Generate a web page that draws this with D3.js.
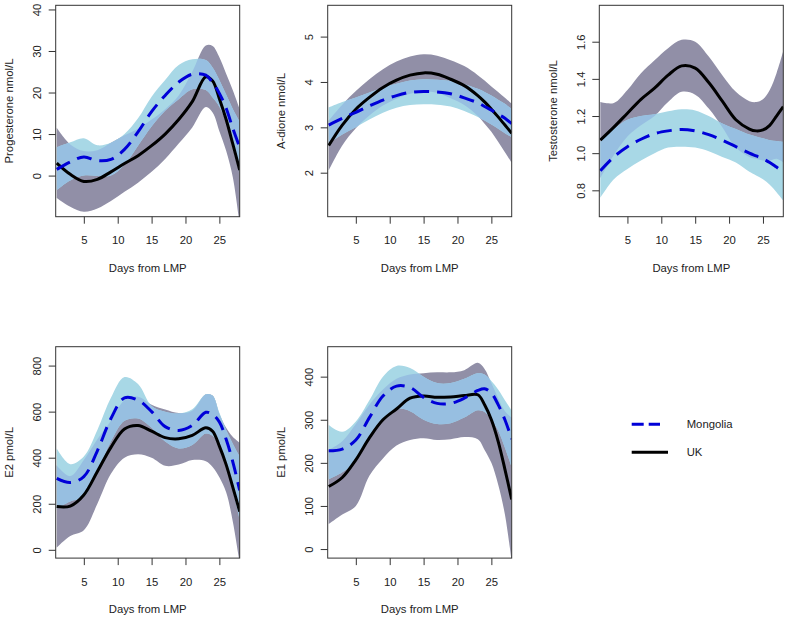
<!DOCTYPE html>
<html><head><meta charset="utf-8">
<script src="https://cdn.jsdelivr.net/npm/d3@7"></script>
<style>
html,body{margin:0;padding:0;background:#fff;}
svg{display:block;font-family:"Liberation Sans",Arial,sans-serif;}
</style></head>
<body>
<script>
// ---------- DATA ----------
const days = [1,3,5,7,9,11,13,15,17,19,21,23,24,25,26,27,28];
const xTicks = [5,10,15,20,25];
const seriesNames = ["Mongolia","UK"];
const xLabel = "Days from LMP";

// Progesterone nmol/L
const progUKMean  = [3.0,0.3,-1.4,-0.9,0.9,2.9,4.8,7.2,10,13.5,17.8,23.8,22.8,18.5,13.5,7.5,1.3];
const progUKUpper = [11.5,7.5,5.9,6.1,7.9,9.7,11.3,13.5,16,19.3,25,31.3,31.2,28.5,24.5,20.5,16];
const progUKLower = [-5.4,-7.5,-8.7,-7.9,-6.1,-3.9,-1.7,0.9,4,7.7,11.6,16.5,15.2,10.7,6,-0.5,-12];
const progMNMean  = [1.5,3.3,4.5,3.6,3.9,6.3,10.5,15.4,19.3,22.5,24.4,24.2,22.4,19.8,16.2,11.3,6.8];
const progMNUpper = [6.8,8,9,7.3,7.9,10,13.8,19,23,26.6,28,27.8,26,23,19.5,16,13];
const progMNLower = [-3.5,-1.2,0,-0.1,0,2.6,7.2,11.8,15.6,18.4,20.8,20.6,18.8,16.6,12.9,6.6,0.6];
const progTicks = [0,10,20,30,40];

// A-dione nmol/L
const adUKMean  = [2.6,3.05,3.4,3.66,3.88,4.04,4.15,4.2,4.17,4.06,3.92,3.7,3.56,3.4,3.23,3.05,2.87];
const adUKUpper = [3.15,3.5,3.8,4.06,4.28,4.45,4.56,4.61,4.58,4.48,4.35,4.15,4.03,3.9,3.78,3.65,3.52];
const adUKLower = [2.05,2.6,2.98,3.26,3.48,3.63,3.74,3.79,3.76,3.64,3.49,3.25,3.08,2.9,2.68,2.45,2.22];
const adMNMean  = [3.05,3.2,3.33,3.47,3.6,3.7,3.77,3.79,3.78,3.74,3.65,3.54,3.46,3.38,3.29,3.2,3.08];
const adMNUpper = [3.44,3.56,3.66,3.77,3.88,3.96,4.03,4.06,4.05,4.02,3.95,3.85,3.78,3.7,3.61,3.52,3.4];
const adMNLower = [2.65,2.84,3.0,3.17,3.32,3.43,3.49,3.51,3.5,3.46,3.36,3.23,3.15,3.06,2.97,2.87,2.78];
const adTicks = [2,3,4,5];

// Testosterone nmol/L
const teUKMean  = [1.07,1.14,1.215,1.29,1.35,1.42,1.47,1.458,1.38,1.28,1.18,1.13,1.12,1.125,1.15,1.2,1.25];
const teUKUpper = [1.275,1.27,1.34,1.43,1.5,1.565,1.61,1.6,1.52,1.42,1.33,1.28,1.275,1.29,1.34,1.43,1.55];
const teUKLower = [0.865,0.99,1.09,1.15,1.2,1.275,1.33,1.315,1.24,1.14,1.03,0.98,0.97,0.96,0.96,0.97,0.95];
const teMNMean  = [0.905,0.98,1.035,1.075,1.105,1.12,1.128,1.12,1.1,1.07,1.035,1.0,0.985,0.97,0.95,0.925,0.9];
const teMNUpper = [1.06,1.13,1.18,1.2,1.21,1.225,1.236,1.23,1.2,1.16,1.13,1.1,1.09,1.08,1.07,1.065,1.06];
const teMNLower = [0.76,0.86,0.915,0.96,1.0,1.03,1.035,1.03,1.01,0.98,0.95,0.9,0.88,0.86,0.83,0.79,0.745];
const teTicks = [0.8,1.0,1.2,1.4,1.6];

// E2 pmol/L
const e2UKMean  = [188,190,238,340,445,525,540,515,487,482,497,530,515,450,370,270,166];
const e2UKUpper = [366,320,390,480,560,650,665,630,609,594,604,675,670,590,530,490,465];
const e2UKLower = [10,60,85,200,330,400,415,400,365,370,390,385,360,315,250,120,-60];
const e2MNMean  = [310,292,318,430,570,660,650,600,535,518,540,597,588,555,480,380,258];
const e2MNUpper = [440,372,405,520,660,750,720,625,600,592,610,675,670,595,520,460,405];
const e2MNLower = [180,210,230,340,470,560,570,530,470,440,455,505,495,450,370,260,130];
const e2Ticks = [0,200,400,600,800];

// E1 pmol/L
const e1UKMean  = [145,166,207,258,300,325,350,355,352,353,356,358,335,300,250,185,115];
const e1UKUpper = [230,250,290,335,370,395,405,408,410,410,415,432,418,385,350,320,305];
const e1UKLower = [58,80,100,170,210,240,253,257,253,255,260,255,230,200,150,80,-30];
const e1MNMean  = [228,232,253,305,355,378,375,352,338,338,350,368,372,362,335,300,255];
const e1MNUpper = [288,272,296,345,400,425,420,400,385,385,395,408,405,390,370,345,322];
const e1MNLower = [162,178,205,258,300,325,320,300,290,292,305,322,318,300,275,235,190];
const e1Ticks = [0,100,200,300,400];

// ---------- LAYOUT ----------
const W = 787, H = 619;
const colLeft = [55.7, 327.7, 599.3];
const rowTop = [5.3, 346.7];
const boxW = 184, boxH = 211.4;
const xDomain = [0.85, 28];
const C = {
  gray: "#918fa7", light: "#a8d8e6", overlap: "#97bfe1",
  blue: "#0000d8", black: "#000", axis: "#333", text: "#222"
};

const panels = [
  {ylab:"Progesterone nmol/L", dom:[-9.9,41], ticks:progTicks, fmt:d3.format("d"), col:0,row:0,
   uk:[progUKMean,progUKUpper,progUKLower], mn:[progMNMean,progMNUpper,progMNLower]},
  {ylab:"A-dione nmol/L", dom:[1.03,5.69], ticks:adTicks, fmt:d3.format("d"), col:1,row:0,
   uk:[adUKMean,adUKUpper,adUKLower], mn:[adMNMean,adMNUpper,adMNLower]},
  {ylab:"Testosterone nmol/L", dom:[0.658,1.796], ticks:teTicks, fmt:d3.format(".1f"), col:2,row:0,
   uk:[teUKMean,teUKUpper,teUKLower], mn:[teMNMean,teMNUpper,teMNLower]},
  {ylab:"E2 pmol/L", dom:[-36,882], ticks:e2Ticks, fmt:d3.format("d"), col:0,row:1,
   uk:[e2UKMean,e2UKUpper,e2UKLower], mn:[e2MNMean,e2MNUpper,e2MNLower]},
  {ylab:"E1 pmol/L", dom:[-21,469.5], ticks:e1Ticks, fmt:d3.format("d"), col:1,row:1,
   uk:[e1UKMean,e1UKUpper,e1UKLower], mn:[e1MNMean,e1MNUpper,e1MNLower]}
];

const svg = d3.select("body").append("svg").attr("width",W).attr("height",H);
const curve = d3.curveCatmullRom.alpha(0.5);

panels.forEach((p,i)=>{
  const x0 = colLeft[p.col], y0 = rowTop[p.row];
  const x = d3.scaleLinear().domain(xDomain).range([x0, x0+boxW]);
  const y = d3.scaleLinear().domain(p.dom).range([y0+boxH, y0]);
  const g = svg.append("g");
  const defs = g.append("defs");
  defs.append("clipPath").attr("id","box"+i).append("rect")
    .attr("x",x0).attr("y",y0).attr("width",boxW).attr("height",boxH);

  const area = (up, lo) => d3.area().curve(curve)
      .x((d,j)=>x(days[j])).y0((d,j)=>y(lo[j])).y1((d,j)=>y(up[j]))(days);
  const line = (m) => d3.line().curve(curve).x((d,j)=>x(days[j])).y((d,j)=>y(m[j]))(days);

  const ukArea = area(p.uk[1], p.uk[2]);
  const mnArea = area(p.mn[1], p.mn[2]);
  defs.append("clipPath").attr("id","uk"+i).append("path").attr("d", ukArea);

  const plot = g.append("g").attr("clip-path","url(#box"+i+")");
  plot.append("path").attr("d",ukArea).attr("fill",C.gray);
  plot.append("path").attr("d",mnArea).attr("fill",C.light);
  plot.append("g").attr("clip-path","url(#uk"+i+")")
    .append("path").attr("d",mnArea).attr("fill",C.overlap);
  plot.append("path").attr("d",line(p.uk[0])).attr("fill","none")
    .attr("stroke",C.black).attr("stroke-width",3);
  plot.append("path").attr("d",line(p.mn[0])).attr("fill","none")
    .attr("stroke",C.blue).attr("stroke-width",3).attr("stroke-dasharray","15,8");

  // box
  g.append("rect").attr("x",x0).attr("y",y0).attr("width",boxW).attr("height",boxH)
    .attr("fill","none").attr("stroke",C.axis).attr("stroke-width",1);

  // x axis
  const xa = g.append("g").attr("transform",`translate(0,${y0+boxH})`)
    .call(d3.axisBottom(x).tickValues(xTicks).tickSize(7).tickSizeOuter(0));
  xa.select(".domain").remove();
  xa.selectAll("line").attr("stroke",C.axis);
  xa.selectAll("text").attr("y",23.5).attr("dy","0.35em")
    .attr("font-size","11.3px").attr("fill",C.text).attr("font-family","Liberation Sans, Arial, sans-serif");

  // y axis
  const ya = g.append("g").attr("transform",`translate(${x0},0)`)
    .call(d3.axisLeft(y).tickValues(p.ticks).tickFormat(p.fmt).tickSize(7).tickSizeOuter(0));
  ya.select(".domain").remove();
  ya.selectAll("line").attr("stroke",C.axis);
  ya.selectAll("text").attr("x",0).attr("y",0).attr("dy","0.35em")
    .attr("transform","translate(-18.5,0) rotate(-90)").attr("text-anchor","middle")
    .attr("font-size","11.3px").attr("fill",C.text).attr("font-family","Liberation Sans, Arial, sans-serif");

  // titles
  g.append("text").attr("x",x0+boxW/2).attr("y",y0+boxH+51).attr("dy","0.35em")
    .attr("text-anchor","middle").attr("font-size","11.3px").attr("fill",C.text).text(xLabel);
  g.append("text").attr("transform",`translate(${x0-46.5},${y0+boxH/2}) rotate(-90)`)
    .attr("dy","0.35em").attr("text-anchor","middle").attr("font-size","11.3px")
    .attr("fill",C.text).text(p.ylab);
});

// legend
const lg = svg.append("g");
const legendItems = [
  {name:seriesNames[0], color:C.blue, dash:"12,5", x2:660, y:424.3},
  {name:seriesNames[1], color:C.black, dash:null, x2:668, y:452.3}
];
legendItems.forEach(it=>{
  lg.append("line").attr("x1",631.7).attr("x2",it.x2).attr("y1",it.y).attr("y2",it.y)
    .attr("stroke",it.color).attr("stroke-width",3).attr("stroke-dasharray",it.dash);
  lg.append("text").attr("x",686.7).attr("y",it.y).attr("dy","0.35em")
    .attr("font-size","11.3px").attr("fill",C.text).text(it.name);
});
</script>
</body></html>
